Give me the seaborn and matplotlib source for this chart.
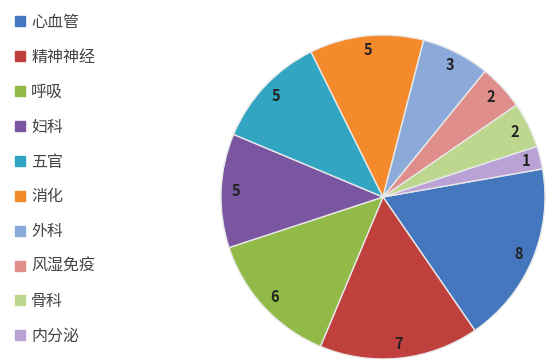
import matplotlib
matplotlib.use("Agg")
import matplotlib.pyplot as plt
from matplotlib.lines import Line2D
import seaborn as sns

categories = ["心血管", "精神神经", "呼吸", "妇科", "五官", "消化", "外科", "风湿免疫", "骨科", "内分泌"]
values = [8, 7, 6, 5, 5, 5, 3, 2, 2, 1]
colors = ["#4477BE", "#C0403D", "#92BA48", "#7A55A0", "#31A5C2", "#F58A2C",
          "#8CAAD9", "#E08E8C", "#BDD88E", "#BBA2D6"]

sns.set_theme(style="white")
plt.rcParams['font.family'] = ['Noto Sans CJK SC', 'DejaVu Sans']

fig = plt.figure(figsize=(5.49, 3.59), dpi=100)
ax = fig.add_axes([221/549, 0.0, 324/549, 324/359])

wedges, texts = ax.pie(values, colors=colors, startangle=10, counterclock=False,
                       labels=[str(v) for v in values], labeldistance=0.91,
                       wedgeprops=dict(edgecolor="#e8e8e8", linewidth=1.0),
                       textprops=dict(fontsize=10.5, color="#222222", fontweight="bold",
                                      ha="center", va="center"))
for w in wedges:
    w.set_clip_on(False)
ax.set_xlim(-1, 1)
ax.set_ylim(-1, 1)
ax.set_aspect("equal")
ax.axis("off")

handles = [Line2D([0], [0], marker="s", linestyle="none", markersize=7,
                  markerfacecolor=c, markeredgecolor=c) for c in colors]
leg = fig.legend(handles, categories, loc="upper left", bbox_to_anchor=(0.0, 0.99),
                 frameon=False, fontsize=11.5, labelspacing=1.12, handletextpad=0.1,
                 handlelength=1.2, borderaxespad=0.25)
for t in leg.get_texts():
    t.set_color("#444444")

fig.savefig("out.png", dpi=100)
